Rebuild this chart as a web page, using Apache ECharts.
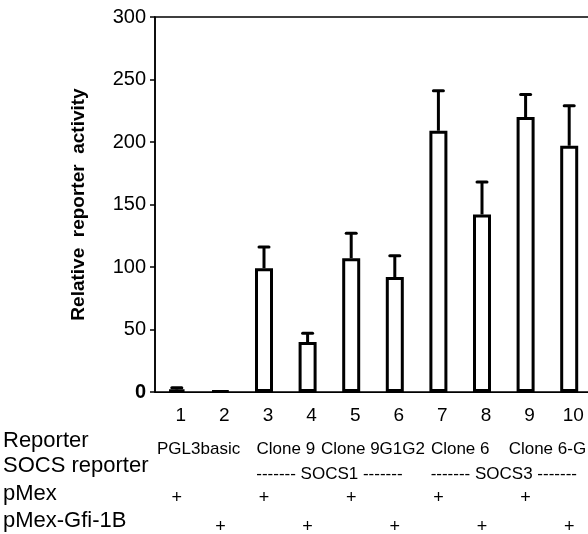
<!DOCTYPE html>
<html>
<head>
<meta charset="utf-8">
<script src="https://cdn.jsdelivr.net/npm/echarts@6/dist/echarts.min.js"></script>
<style>
html,body{margin:0;padding:0;background:#fff;}
#chart{width:588px;height:534px;}
</style>
</head>
<body>
<div id="chart"></div>
<script>
// ---- data ----
const categories = ['1','2','3','4','5','6','7','8','9','10'];
const values = [2, 1, 99, 40, 107, 92, 209, 142, 220, 197];
const errors = [1.5, 0, 17, 7, 20, 17, 32, 26, 18, 32];
const yTicks = [0, 50, 100, 150, 200, 250, 300];
const rowHeaders = ['Reporter', 'SOCS reporter', 'pMex', 'pMex-Gfi-1B'];
const reporterNames = ['PGL3basic', 'Clone 9', 'Clone 9G1G2', 'Clone 6', 'Clone 6-G'];
const reporterSpans = [[0,1],[2,3],[4,5],[6,7],[8,9]];
const socsGroups = ['------- SOCS1 -------', '------- SOCS3 -------'];
const socsSpans = [[2,5],[6,9]];
const pMexRow = ['+','','+','','+','','+','','+',''];
const pMexGfiRow = ['','+','','+','','+','','+','','+'];

const FONT = '"Liberation Sans", Arial, Helvetica, sans-serif';
const chart = echarts.init(document.getElementById('chart'), null, {renderer:'canvas'});

const errData = values.map((v, i) => [i, v, v + errors[i], errors[i]]);

chart.setOption({
  animation: false,
  backgroundColor: '#fff',
  grid: {left: 155, top: 17, width: 436, height: 375, show: true,
         borderColor: '#000', borderWidth: 1.5, backgroundColor: 'transparent',
         containLabel: false, outerBoundsMode: 'none'},
  xAxis: {
    type: 'category', data: categories,
    axisLine: {lineStyle: {color: '#000', width: 1}},
    axisTick: {show: false},
    axisLabel: {color: '#000', fontSize: 19, margin: 14, fontFamily: FONT, padding: [0,0,0,8]}
  },
  yAxis: {
    type: 'value', min: yTicks[0], max: yTicks[yTicks.length-1], interval: 50,
    splitLine: {show: false},
    axisLine: {show: true, lineStyle: {color: '#000', width: 1.5}},
    axisTick: {show: true, length: 5, lineStyle: {color: '#000', width: 1.5}},
    axisLabel: {color: '#000', fontSize: 20, margin: 9, fontFamily: FONT,
      formatter: v => v === 0 ? '{b|0}' : String(v),
      rich: {b: {fontWeight: 'bold', fontSize: 20, fontFamily: FONT, color: '#000'}}},
    name: 'Relative  reporter  activity', nameLocation: 'middle', nameGap: 67, nameRotate: 90,
    nameTextStyle: {color: '#000', fontWeight: 'bold', fontSize: 19, fontFamily: FONT}
  },
  series: [
    {type: 'bar', data: values, barWidth: 18,
     itemStyle: {color: '#fff', borderColor: '#000', borderWidth: 3}},
    {type: 'custom', data: errData, z: 5,
     renderItem: function (params, api) {
       if (api.value(3) <= 0) return null;
       const p0 = api.coord([api.value(0), api.value(1)]);
       const p1 = api.coord([api.value(0), api.value(2)]);
       return {type: 'group', children: [
         {type: 'line', shape: {x1: p0[0], y1: p0[1], x2: p1[0], y2: p1[1]},
          style: {stroke: '#000', lineWidth: 3}},
         {type: 'line', shape: {x1: p1[0]-5, y1: p1[1], x2: p1[0]+5, y2: p1[1]},
          style: {stroke: '#000', lineWidth: 3, lineCap: 'round'}}
       ]};
     }}
  ]
});

// ---- table beneath the axis, positioned from the category scale ----
const px = i => chart.convertToPixel({xAxisIndex: 0}, categories[i]);
const graphics = [];
const headerY = [440.5, 465.5, 494, 520.5];
rowHeaders.forEach((t, r) => graphics.push({type: 'text', x: 3, y: headerY[r],
  style: {text: t, font: '22px ' + FONT, fill: '#000', align: 'left', verticalAlign: 'middle'}}));
reporterNames.forEach((t, k) => {
  const x = (px(reporterSpans[k][0]) + px(reporterSpans[k][1])) / 2;
  graphics.push({type: 'text', x: x, y: 449.5,
    style: {text: t, font: '17px ' + FONT, fill: '#000', align: 'center', verticalAlign: 'middle'}});
});
socsGroups.forEach((t, k) => {
  const x = (px(socsSpans[k][0]) + px(socsSpans[k][1])) / 2;
  graphics.push({type: 'text', x: x, y: 474,
    style: {text: t, font: '17px ' + FONT, fill: '#000', align: 'center', verticalAlign: 'middle'}});
});
[[pMexRow, 498.5], [pMexGfiRow, 527]].forEach(([row, y]) => {
  row.forEach((t, i) => { if (t) graphics.push({type: 'text', x: px(i), y: y,
    style: {text: t, font: '18px ' + FONT, fill: '#000', align: 'center', verticalAlign: 'middle'}}); });
});
chart.setOption({graphic: graphics});
</script>
</body>
</html>
